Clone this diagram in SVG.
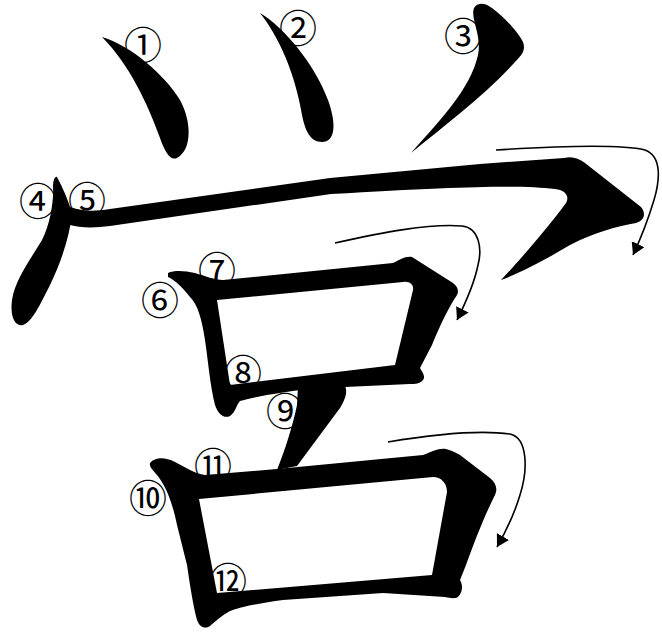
<svg xmlns="http://www.w3.org/2000/svg" width="662" height="633" viewBox="0 0 662 633">
<style>
.ink{fill:#000;stroke:none}
.num{font-family:"Noto Sans CJK JP","DejaVu Sans",sans-serif;font-size:38px;fill:#000;text-anchor:middle;dominant-baseline:central}
.arr{fill:none;stroke:#000;stroke-width:1.6}
</style>
<defs>
<marker id="ah" viewBox="0 0 12 14" refX="12" refY="7" markerWidth="12" markerHeight="14" markerUnits="userSpaceOnUse" orient="auto">
<path d="M0,0 L12,7 L0,14 Z" fill="#000"/>
</marker>
</defs>
<rect width="662" height="633" fill="#fff"/>
<g id="strokes">
<path id="s1" class="ink" d="M102,37 C130,45 165,75 180,100 C192,122 192,150 177,158 C170,161 165,152 160,138 C148,105 130,65 102,37 Z"/>
<path id="s2" class="ink" d="M260,13 C285,28 315,65 328,100 C337,125 335,142 322,142 C310,142 305,130 302,115 C297,85 285,45 260,13 Z"/>
<path id="s3" class="ink" d="M411,153 C440,120 470,90 478,55 C482,35 470,18 474,8 C478,2 485,3 492,8 C505,18 518,32 523,42 C526,50 522,55 515,62 C485,95 445,125 411,153 Z"/>
<path id="s4" class="ink" d="M57,177 C63,188 68,200 72,213 C70,235 62,260 50,285 C40,305 32,322 23,325 C14,327 10,315 12,300 C15,280 30,260 42,240 C50,225 54,200 53,187 C53,180 55,176 57,177 Z"/>
<path id="s5" class="ink" d="M70,207 C85,212 95,211 110,209 L330,178 L480,164 L564,158 C572,156 578,158 585,163 L641,207 C646,213 645,220 636,223 C615,227 595,232 570,245 C545,260 520,273 501,280 C520,260 550,225 566,203 C570,196 565,190 555,189 C520,185 470,186 331,194 L110,226 C95,228 80,228 70,225 Z"/>
<path id="s6-8" class="ink" fill-rule="evenodd" d="M168,273 C175,270 185,271 195,273 C205,276 215,280 223,280 L393,263 C400,260 405,256 412,257 L453,283 C458,287 459,291 457,295 C450,305 440,325 432,345 L420,368 C422,372 426,376 423,380 C420,384 415,384 410,384 L345,387 L300,390 C270,394 250,398 240,401 C236,405 236,412 230,416 C224,419 218,414 215,405 C210,385 208,360 205,340 C202,320 198,305 190,297 C183,288 175,280 168,277 Z M217,300 L403,282 C410,281 414,285 413,290 L395,365 L230,385 Z"/>
<path id="s9" class="ink" d="M298,386 L345,386 C348,392 345,400 340,408 L297,466 L277,470 C285,450 293,425 297,405 Z"/>
<path id="s10-12" class="ink" fill-rule="evenodd" d="M150,463 C155,457 165,457 175,462 C185,467 195,474 205,475 L277,469 L423,455 C432,452 438,448 446,449 C450,450 455,452 460,455 L490,478 C497,484 498,490 494,497 C485,515 475,540 466,565 L460,580 C463,585 463,592 458,597 C455,599 450,598 445,597 L383,593 L283,600 C260,603 240,607 230,611 C222,615 215,622 210,626 C205,629 200,628 197,620 C193,605 190,585 187,565 L177,525 C172,500 165,485 157,475 C153,470 149,467 150,463 Z M199,499 L433,477 C441,477 447,483 447,492 L432,575 L217,593 Z"/>
</g>
<g id="connectors">
<path class="arr" marker-end="url(#ah)" d="M496,150 C560,146 620,144 645,150 C662,156 660,180 654,200 C648,220 640,240 633,255"/>
<path class="arr" marker-end="url(#ah)" d="M335,243 C380,233 430,223 462,226 C480,228 482,250 478,265 C474,285 466,302 457,320"/>
<path class="arr" marker-end="url(#ah)" d="M388,442 C430,435 480,430 510,434 C528,438 528,470 520,495 C514,515 505,533 497,547"/>
</g>
<g id="labels">
<text class="num" x="143" y="42">①</text>
<text class="num" x="298" y="25">②</text>
<text class="num" x="463" y="33">③</text>
<text class="num" x="38" y="198">④</text>
<text class="num" x="87" y="197">⑤</text>
<text class="num" x="160" y="297">⑥</text>
<text class="num" x="217" y="267">⑦</text>
<text class="num" x="243" y="370">⑧</text>
<text class="num" x="285" y="408">⑨</text>
<text class="num" x="148" y="495">⑩</text>
<text class="num" x="213" y="463">⑪</text>
<text class="num" x="228" y="578">⑫</text>
</g>
</svg>
